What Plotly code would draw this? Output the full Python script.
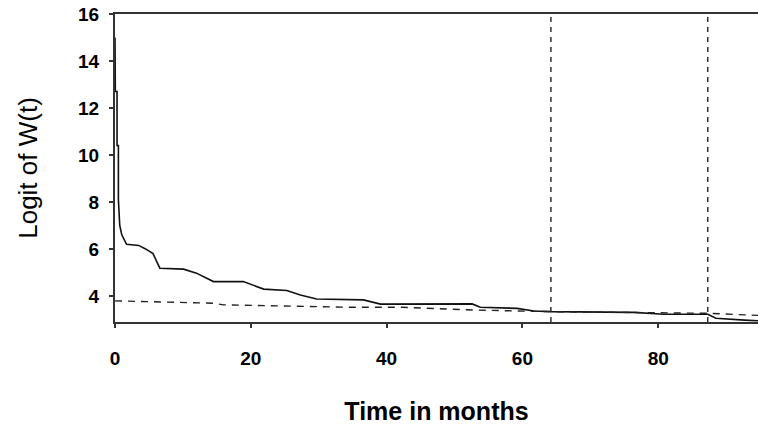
import plotly.graph_objects as go

# Solid curve: logit of W(t)
time_solid = [0, 0.05, 0.05, 0.3, 0.3, 0.5, 0.5, 0.7, 1.0, 1.7, 3.5, 4.5, 5.6, 6.6, 10.1, 12.0, 14.5,
              18.9, 21.9, 25.3, 27.3, 29.7, 36.6, 39.1, 52.6, 53.8, 59.2, 61.7, 64.2, 76.4,
              80.8, 87.3, 88.5, 92.7, 94.8]
logit_solid = [15.0, 12.7, 12.7, 12.7, 10.4, 10.4, 8.1, 7.0, 6.6, 6.2, 6.15, 6.0, 5.8, 5.18, 5.14, 4.97, 4.61,
               4.61, 4.29, 4.23, 4.04, 3.87, 3.83, 3.65, 3.66, 3.52, 3.47, 3.36, 3.33, 3.30,
               3.22, 3.22, 3.05, 2.97, 2.94]

# Dashed reference curve
time_dashed = [0, 14.5, 16.0, 33.8, 42.0, 52.8, 64.2, 87.3, 94.8]
logit_dashed = [3.79, 3.69, 3.62, 3.52, 3.52, 3.40, 3.33, 3.26, 3.17]

# Vertical dashed markers (months)
vline_months = [64.2, 87.3]

x_ticks = [0, 20, 40, 60, 80]
y_ticks = [4, 6, 8, 10, 12, 14, 16]

fig = go.Figure()
fig.add_trace(go.Scatter(x=time_solid, y=logit_solid, mode="lines",
                         line=dict(color="#111111", width=1.6), showlegend=False))
fig.add_trace(go.Scatter(x=time_dashed, y=logit_dashed, mode="lines",
                         line=dict(color="#222222", width=1.4, dash="7px,6px"), showlegend=False))
for vx in vline_months:
    fig.add_shape(type="line", xref="x", yref="paper", x0=vx, x1=vx, y0=0, y1=1,
                  line=dict(color="#222222", width=1.4, dash="5px,5px"))

tick_font = dict(family="Liberation Sans, Arial, sans-serif", size=19, color="black", weight="bold")

fig.update_layout(
    width=758, height=427,
    margin=dict(l=115, r=0, t=14, b=105),
    paper_bgcolor="white", plot_bgcolor="white",
    xaxis=dict(range=[0, 94.7], tickvals=x_ticks, ticks="outside", ticklen=4, tickwidth=1.5,
               tickcolor="#333", showline=True, linecolor="#333", linewidth=2, mirror=True,
               showgrid=False, zeroline=False, tickfont=tick_font, ticklabelstandoff=14,
               automargin=False,
               title=dict(text="Time in months", standoff=35,
                          font=dict(family="Liberation Sans, Arial, sans-serif", size=25,
                                    color="black", weight="bold"))),
    yaxis=dict(range=[2.89, 16], tickvals=y_ticks, ticks="outside", ticklen=4, tickwidth=1.5,
               tickcolor="#333", showline=True, linecolor="#333", linewidth=2, mirror=False,
               showgrid=False, zeroline=False, tickfont=tick_font, ticklabelstandoff=6,
               automargin=False,
               title=dict(text="Logit of W(t)", standoff=33,
                          font=dict(family="Liberation Sans, Arial, sans-serif", size=26,
                                    color="black"))),
)

fig.write_html("out.html", config={"displayModeBar": False},
               post_script="document.body.style.margin='0';document.body.style.overflow='hidden';")
